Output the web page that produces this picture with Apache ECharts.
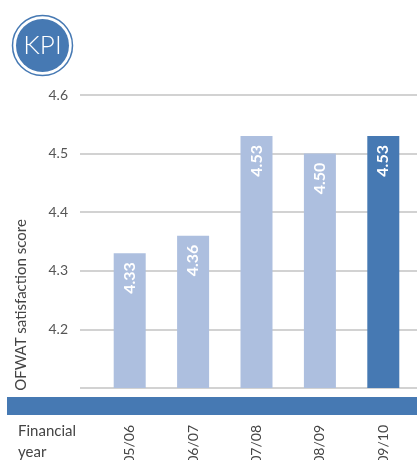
<!DOCTYPE html>
<html>
<head>
<meta charset="utf-8">
<script src="https://cdn.jsdelivr.net/npm/echarts@6/dist/echarts.min.js"></script>
<style>
  html, body { margin: 0; padding: 0; background: #ffffff; }
  #chart { width: 417px; height: 460px; }
</style>
</head>
<body>
<div id="chart"></div>
<script>
// Financial years and OFWAT satisfaction scores
const years = ['2005/06', '2006/07', '2007/08', '2008/09', '2009/10'];
const scores = [4.33, 4.36, 4.53, 4.50, 4.53];
const yTicks = [4.1, 4.2, 4.3, 4.4, 4.5, 4.6];

const LIGHT = '#adbfdf';
const DARK = '#4679b3';
const FONT = 'Lato, "Open Sans", sans-serif';

const chart = echarts.init(document.getElementById('chart'), null, { renderer: 'canvas' });

const barData = scores.map((v, i) => ({
  value: v,
  itemStyle: { color: i === scores.length - 1 ? DARK : LIGHT }
}));

chart.setOption({
  animation: false,
  textStyle: { fontFamily: FONT },
  grid: [
    { left: 80, right: 0, top: 95, bottom: 72, containLabel: false, outerBoundsMode: 'none' },
    { left: 98, right: 2, top: 95, bottom: 72, containLabel: false, outerBoundsMode: 'none' }
  ],
  xAxis: [
    { type: 'category', gridIndex: 0, data: years, show: false },
    {
      type: 'category', gridIndex: 1, data: years,
      axisLine: { show: false }, axisTick: { show: false },
      axisLabel: { rotate: 90, margin: 37, fontSize: 14, color: '#444', fontFamily: FONT }
    }
  ],
  yAxis: [
    {
      type: 'value', gridIndex: 0,
      min: yTicks[0], max: yTicks[yTicks.length - 1], interval: 0.1,
      axisLine: { show: false }, axisTick: { show: false },
      splitLine: { show: true, lineStyle: { color: '#d2d2d2', width: 2 } },
      axisLabel: {
        margin: 12, fontSize: 14, color: '#555', fontFamily: FONT,
        formatter: v => (Math.abs(v - yTicks[0]) < 1e-6 ? '' : v.toFixed(1))
      }
    },
    {
      type: 'value', gridIndex: 1,
      min: yTicks[0], max: yTicks[yTicks.length - 1], interval: 0.1,
      show: false
    }
  ],
  series: [{
    type: 'bar',
    xAxisIndex: 1, yAxisIndex: 1,
    barWidth: 32,
    data: barData,
    label: {
      show: true,
      position: 'insideTop',
      rotate: 90,
      align: 'right',
      verticalAlign: 'middle',
      distance: 9,
      color: '#ffffff',
      fontWeight: 'bold',
      fontSize: 16,
      fontFamily: FONT,
      formatter: p => p.value.toFixed(2)
    }
  }],
  graphic: [
    // footer band under the bars
    { type: 'rect', left: 7, top: 397, shape: { width: 410, height: 18 }, style: { fill: DARK } },
    // KPI badge
    { type: 'circle', shape: { cx: 42.5, cy: 45.5, r: 30 }, style: { fill: '#fff', stroke: DARK, lineWidth: 1.5 } },
    { type: 'circle', shape: { cx: 42.5, cy: 45.5, r: 26.5 }, style: { fill: DARK } },
    { type: 'text', x: 42.5, y: 46, style: { text: 'KPI', fill: '#fff', font: '300 26px ' + FONT, textAlign: 'center', textVerticalAlign: 'middle' } },
    // axis title
    { type: 'text', x: 21, y: 305, rotation: Math.PI / 2, style: { text: 'OFWAT satisfaction score', fill: '#444', font: '15px ' + FONT, textAlign: 'center', textVerticalAlign: 'middle' } },
    // category axis title
    { type: 'text', left: 18, top: 421, style: { text: 'Financial\nyear', fill: '#444', font: '15px ' + FONT, lineHeight: 21 } }
  ]
});
</script>
</body>
</html>
